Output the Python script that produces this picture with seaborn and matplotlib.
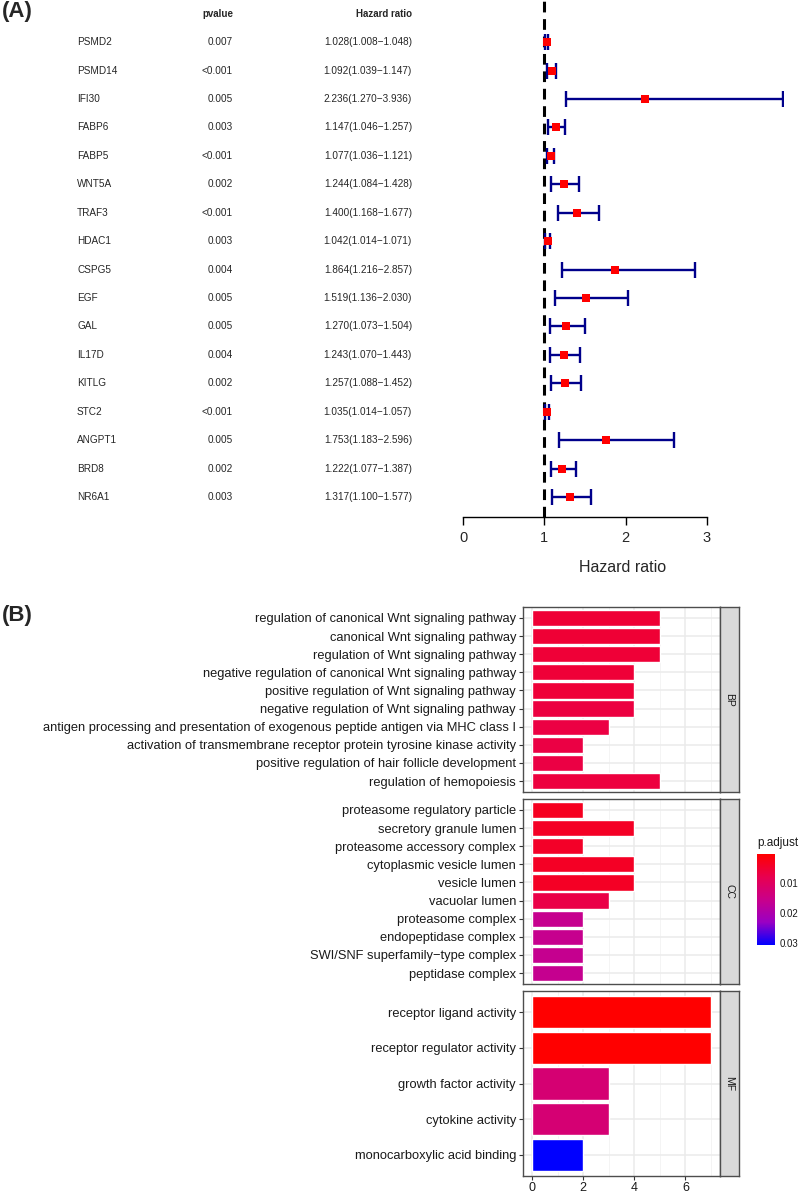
import numpy as np
import pandas as pd
import matplotlib
matplotlib.use("Agg")
import matplotlib.pyplot as plt
from matplotlib.colors import LinearSegmentedColormap, Normalize
from matplotlib.cm import ScalarMappable
from matplotlib.transforms import blended_transform_factory
import seaborn as sns

# ---- panel A data ----
genes = ["PSMD2", "PSMD14", "IFI30", "FABP6", "FABP5", "WNT5A", "TRAF3", "HDAC1", "CSPG5",
         "EGF", "GAL", "IL17D", "KITLG", "STC2", "ANGPT1", "BRD8", "NR6A1"]
pvalues = ["0.007", "<0.001", "0.005", "0.003", "<0.001", "0.002", "<0.001", "0.003", "0.004",
           "0.005", "0.005", "0.004", "0.002", "<0.001", "0.005", "0.002", "0.003"]
hr = [1.028, 1.092, 2.236, 1.147, 1.077, 1.244, 1.400, 1.042, 1.864,
      1.519, 1.270, 1.243, 1.257, 1.035, 1.753, 1.222, 1.317]
hrLow = [1.008, 1.039, 1.270, 1.046, 1.036, 1.084, 1.168, 1.014, 1.216,
         1.136, 1.073, 1.070, 1.088, 1.014, 1.183, 1.077, 1.100]
hrHigh = [1.048, 1.147, 3.936, 1.257, 1.121, 1.428, 1.677, 1.071, 2.857,
          2.030, 1.504, 1.443, 1.452, 1.057, 2.596, 1.387, 1.577]

# ---- panel B data ----
bpTerms = ["regulation of canonical Wnt signaling pathway",
           "canonical Wnt signaling pathway",
           "regulation of Wnt signaling pathway",
           "negative regulation of canonical Wnt signaling pathway",
           "positive regulation of Wnt signaling pathway",
           "negative regulation of Wnt signaling pathway",
           "antigen processing and presentation of exogenous peptide antigen via MHC class I",
           "activation of transmembrane receptor protein tyrosine kinase activity",
           "positive regulation of hair follicle development",
           "regulation of hemopoiesis"]
bpCounts = [5, 5, 5, 4, 4, 4, 3, 2, 2, 5]
bpPadj = [0.0055, 0.0055, 0.0056, 0.0058, 0.0058, 0.0066, 0.0068, 0.0070, 0.0070, 0.0064]

ccTerms = ["proteasome regulatory particle",
           "secretory granule lumen",
           "proteasome accessory complex",
           "cytoplasmic vesicle lumen",
           "vesicle lumen",
           "vacuolar lumen",
           "proteasome complex",
           "endopeptidase complex",
           "SWI/SNF superfamily\u2212type complex",
           "peptidase complex"]
ccCounts = [2, 4, 2, 4, 4, 3, 2, 2, 2, 2]
ccPadj = [0.0035, 0.0040, 0.0042, 0.0040, 0.0040, 0.0072, 0.0160, 0.0160, 0.0162, 0.0162]

mfTerms = ["receptor ligand activity",
           "receptor regulator activity",
           "growth factor activity",
           "cytokine activity",
           "monocarboxylic acid binding"]
mfCounts = [7, 7, 3, 3, 2]
mfPadj = [0.0004, 0.0005, 0.0125, 0.0126, 0.0306]

sns.set_style("white")
plt.rcParams["font.family"] = ["Liberation Sans", "DejaVu Sans"]

W, H = 800, 1193
fig = plt.figure(figsize=(W / 100, H / 100), dpi=100)


def box(left, top, right, bottom):
    return [left / W, 1 - bottom / H, (right - left) / W, (bottom - top) / H]


# ================= Panel A: forest plot =================
ax = fig.add_axes(box(463, 0, 783, 517))
rows = np.arange(len(genes))
forestDf = pd.DataFrame({"gene": genes, "hr": hr, "low": hrLow, "high": hrHigh, "row": rows})

ax.axvline(1, color="black", lw=2.2, ls=(0, (3.5, 2.2)), zorder=1)
ax.errorbar(forestDf["hr"], forestDf["row"],
            xerr=[forestDf["hr"] - forestDf["low"], forestDf["high"] - forestDf["hr"]],
            fmt="none", ecolor="#00008B", elinewidth=1.7, capsize=6, capthick=1.7, zorder=2)
sns.scatterplot(data=forestDf, x="hr", y="row", marker="s", s=40, color="red",
                edgecolor="red", linewidth=0, zorder=3, ax=ax)

ax.set_xlim(0, max(hrHigh))
ax.set_ylim(len(genes) - 1 + 0.70, -1.48)
for s in ["top", "right", "left"]:
    ax.spines[s].set_visible(False)
ax.spines["bottom"].set_bounds(0, 3)
ax.spines["bottom"].set_color("black")
ax.spines["bottom"].set_linewidth(1.0)
ax.set_xticks([0, 1, 2, 3])
ax.set_yticks([])
ax.tick_params(axis="x", direction="out", length=6, width=1.0, color="black",
               labelsize=10.5, pad=4, bottom=True)
ax.set_xlabel("Hazard ratio", fontsize=11.5, labelpad=11)
ax.set_ylabel("")
ax.patch.set_alpha(0)

tr = blended_transform_factory(fig.transFigure, ax.transData)
for i, g in enumerate(genes):
    ax.text(77 / W, i, g, transform=tr, ha="left", va="center", fontsize=7.2)
    ax.text(233 / W, i, pvalues[i], transform=tr, ha="right", va="center", fontsize=7.2)
    ax.text(412 / W, i, f"{hr[i]:.3f}({hrLow[i]:.3f}\u2212{hrHigh[i]:.3f})",
            transform=tr, ha="right", va="center", fontsize=7.2)
ax.text(233 / W, -1, "pvalue", transform=tr, ha="right", va="center", fontsize=7, fontweight="bold")
ax.text(412 / W, -1, "Hazard ratio", transform=tr, ha="right", va="center", fontsize=7, fontweight="bold")

fig.text(2 / W, 1 - 11 / H, "(A)", fontsize=16, fontweight="bold", ha="left", va="center")
fig.text(2 / W, 1 - 615 / H, "(B)", fontsize=16, fontweight="bold", ha="left", va="center")

# ================= Panel B: GO barplot =================
cmap = LinearSegmentedColormap.from_list(
    "labRedBlue", ["#FF0000", "#E8004F", "#C9008A", "#9A00C3", "#0000FF"])
allPadj = bpPadj + ccPadj + mfPadj
norm = Normalize(vmin=min(allPadj), vmax=max(allPadj))

facets = [("BP", bpTerms, bpCounts, bpPadj, 607, 792),
          ("CC", ccTerms, ccCounts, ccPadj, 799, 984),
          ("MF", mfTerms, mfCounts, mfPadj, 991, 1176)]

for k, (name, terms, counts, padj, top, bottom) in enumerate(facets):
    bax = fig.add_axes(box(523, top, 720, bottom))
    df = pd.DataFrame({"term": terms, "count": counts, "padj": padj})
    colors = {t: cmap(norm(p)) for t, p in zip(terms, padj)}
    sns.barplot(data=df, x="count", y="term", hue="term", palette=colors, legend=False,
                width=0.9, edgecolor="white", linewidth=1.0, saturation=1, ax=bax, zorder=2)
    bax.set_xlim(-0.35, 7.35)
    bax.set_ylim(len(terms) - 1 + 0.6, -0.6)
    bax.set_xticks([0, 2, 4, 6])
    bax.set_xticks([1, 3, 5, 7], minor=True)
    bax.set_axisbelow(True)
    bax.grid(True, which="major", axis="both", color="#EBEBEB", lw=1.1)
    bax.grid(True, which="minor", axis="x", color="#F3F3F3", lw=0.6)
    bax.set_xlabel("")
    bax.set_ylabel("")
    for s in bax.spines.values():
        s.set_visible(True)
        s.set_color("#4D4D4D")
        s.set_linewidth(1.0)
    bax.tick_params(axis="y", length=3, width=0.8, color="#333333", labelsize=9.3,
                    labelcolor="#1A1A1A", pad=2, left=True)
    bax.tick_params(axis="x", which="major", length=3, width=0.8, color="#333333",
                    labelsize=9, labelcolor="#1A1A1A", pad=1, bottom=True)
    bax.tick_params(axis="x", which="minor", length=0)
    if k < 2:
        bax.tick_params(axis="x", which="major", bottom=False, labelbottom=False)

    sax = fig.add_axes(box(720, top, 739, bottom))
    sax.set_facecolor("#D9D9D9")
    sax.set_xticks([])
    sax.set_yticks([])
    for s in sax.spines.values():
        s.set_color("#4D4D4D")
        s.set_linewidth(1.0)
    sax.text(0.5, 0.5, name, transform=sax.transAxes, rotation=-90, ha="center", va="center",
             fontsize=7.5, color="#1A1A1A")

# colourbar
cax = fig.add_axes(box(757, 854, 775, 945))
sm = ScalarMappable(norm=norm, cmap=cmap)
cb = fig.colorbar(sm, cax=cax, ticks=[0.01, 0.02, 0.03])
cb.outline.set_visible(False)
cax.invert_yaxis()
cax.yaxis.set_ticks_position("both")
cax.tick_params(direction="in", length=3, width=0.8, color="white", labelsize=7,
                labelcolor="#1A1A1A", pad=3, labelleft=False, labelright=True)
cax.set_yticklabels(["0.01", "0.02", "0.03"])
fig.text(757 / W, 1 - 843 / H, "p.adjust", fontsize=8.5, ha="left", va="center", color="#1A1A1A")

fig.savefig("out.png", dpi=100)
